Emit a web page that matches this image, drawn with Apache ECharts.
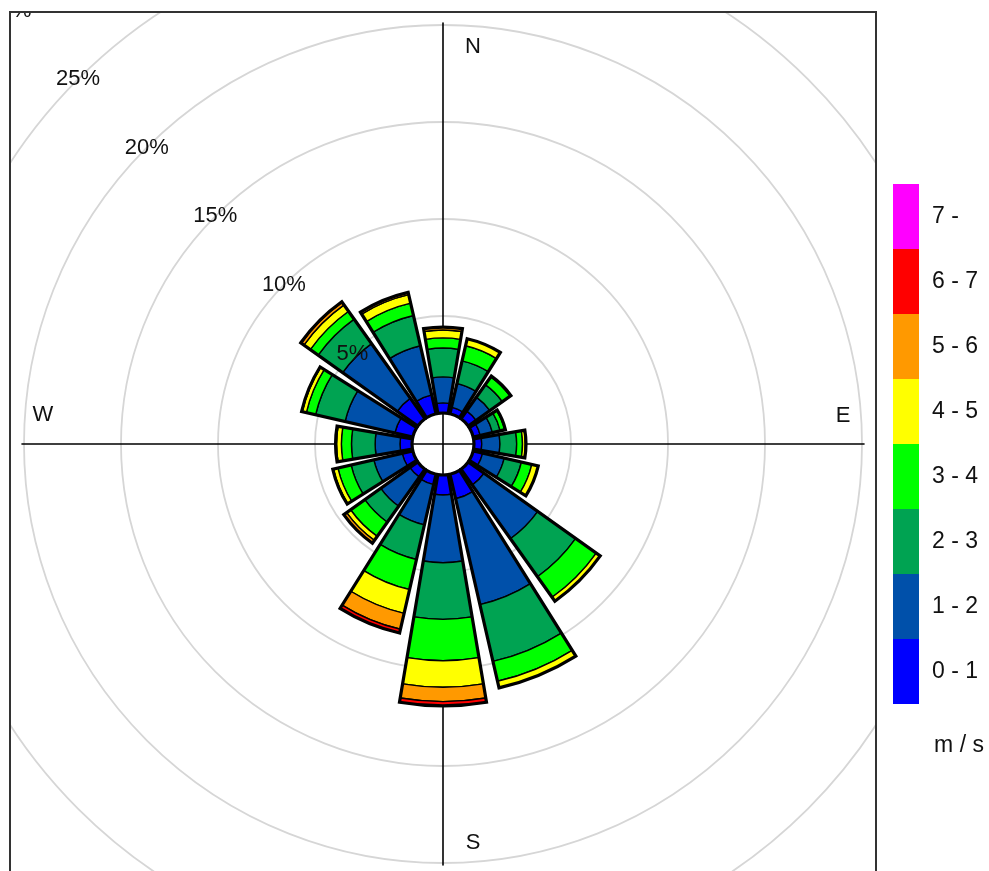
<!DOCTYPE html>
<html>
<head>
<meta charset="utf-8">
<script src="https://cdn.jsdelivr.net/npm/echarts@6/dist/echarts.min.js"></script>
<style>
  html, body { margin: 0; padding: 0; background: #fff; }
  #chart { width: 989px; height: 871px; }
</style>
</head>
<body>
<div id="chart"></div>
<script>
// ---- data ----
const directions = ['N','NNE','NE','ENE','E','ESE','SE','SSE','S','SSW','SW','WSW','W','WNW','NW','NNW'];
const speedBins = ['0 - 1','1 - 2','2 - 3','3 - 4','4 - 5','5 - 6','6 - 7','7 -'];
const binColors = ['#0000FF','#0050AA','#00A352','#00FF00','#FFFF00','#FF9900','#FF0000','#FF00FF'];

// frequency (%) per direction for each speed bin
const freq0to1 = [0.52, 0.35, 0.50, 0.37, 0.40, 0.50, 1.00, 1.30, 1.03, 0.55, 0.50, 0.56, 0.62, 0.95, 1.30, 1.00];
const freq1to2 = [1.34, 1.25, 0.87, 0.65, 0.94, 1.14, 3.40, 5.60, 3.49, 2.13, 1.84, 1.50, 1.28, 2.63, 3.45, 2.60];
const freq2to3 = [1.49, 1.20, 0.79, 0.41, 0.86, 0.91, 2.40, 3.00, 2.92, 1.83, 1.01, 1.20, 1.22, 1.56, 1.55, 1.60];
const freq3to4 = [0.52, 0.80, 0.49, 0.24, 0.30, 0.55, 1.30, 1.05, 2.13, 1.59, 0.90, 0.70, 0.52, 0.49, 0.50, 0.65];
const freq4to5 = [0.41, 0.37, 0.05, 0.03, 0.15, 0.34, 0.25, 0.35, 1.37, 1.26, 0.25, 0.24, 0.25, 0.22, 0.40, 0.45];
const freq5to6 = [0.15, 0, 0, 0, 0.03, 0, 0, 0, 0.74, 0.84, 0.18, 0.03, 0.05, 0.03, 0.17, 0.12];
const freq6to7 = [0, 0, 0, 0, 0, 0, 0, 0, 0.22, 0.20, 0, 0, 0, 0, 0.03, 0];
const freq7up  = [0, 0, 0, 0, 0, 0, 0, 0, 0, 0, 0, 0, 0, 0, 0, 0];
const binFreqs = [freq0to1, freq1to2, freq2to3, freq3to4, freq4to5, freq5to6, freq6to7, freq7up];

const ringValues = [5, 10, 15, 20, 25, 30];
const ringLabelDirection = 'NW';
const compassLabels = ['N', 'E', 'S', 'W'];
const unitLabel = 'm / s';

// ---- chart ----
const FONT = '"Liberation Sans", Arial, Helvetica, sans-serif';
const TXT = '#111111';
const chart = echarts.init(document.getElementById('chart'), null, { renderer: 'canvas' });

const totals = directions.map((d, i) => binFreqs.reduce((s, arr) => s + arr[i], 0));

const barSeries = speedBins.map((name, b) => ({
  name: name,
  type: 'bar',
  coordinateSystem: 'polar',
  stack: 'speed',
  barCategoryGap: '15%',
  barGap: '-100%',
  data: binFreqs[b].map(v => (v > 0 ? v : '-')),
  itemStyle: { color: binColors[b], borderColor: '#000', borderWidth: 1.4 },
  emphasis: { disabled: true },
  z: 3
}));

const outlineSeries = {
  name: 'outline',
  type: 'bar',
  coordinateSystem: 'polar',
  stack: 'outline',
  barCategoryGap: '15%',
  barGap: '-100%',
  data: totals,
  itemStyle: { color: 'rgba(0,0,0,0)', borderColor: '#000', borderWidth: 3.2 },
  emphasis: { disabled: true },
  silent: true,
  z: 4
};

const ringLabelSeries = {
  name: 'rings',
  type: 'scatter',
  coordinateSystem: 'polar',
  symbolSize: 1,
  itemStyle: { color: 'rgba(0,0,0,0)', opacity: 1 },
  data: ringValues.map(v => [v, ringLabelDirection]),
  label: {
    show: true,
    position: 'inside',
    formatter: p => p.value[0] + '%',
    fontFamily: FONT,
    fontSize: 22,
    color: TXT,
    opacity: 1
  },
  emphasis: { disabled: true },
  silent: true,
  z: 6
};

const cx = 443, cy = 444;
const innerR = 31, pxPerPct = 19.4;
const maxPct = 30;
const textStyle = (t) => ({ text: t, font: '22px ' + FONT, fill: TXT, align: 'center', verticalAlign: 'middle' });

chart.setOption({
  animation: false,
  backgroundColor: '#fff',
  polar: {
    center: [cx, cy],
    radius: [innerR, innerR + pxPerPct * maxPct]
  },
  angleAxis: {
    type: 'category',
    data: directions,
    startAngle: 90 + 360 / directions.length / 2,
    clockwise: true,
    axisLine: { show: false },
    axisTick: { show: false },
    axisLabel: { show: false },
    splitLine: { show: false }
  },
  radiusAxis: {
    type: 'value',
    min: 0,
    max: maxPct,
    interval: 5,
    axisLine: { show: false },
    axisTick: { show: false },
    axisLabel: { show: false },
    splitLine: { show: true, lineStyle: { color: '#d6d6d6', width: 1.8 } }
  },
  grid: { left: 22, right: 125, top: 23, bottom: 6 },
  xAxis: {
    type: 'value', min: -1, max: 1,
    axisLine: { show: true, onZero: true, lineStyle: { color: '#000', width: 1.6 } },
    axisTick: { show: false }, axisLabel: { show: false }, splitLine: { show: false }
  },
  yAxis: {
    type: 'value', min: -1, max: 1,
    axisLine: { show: true, onZero: true, lineStyle: { color: '#000', width: 1.6 } },
    axisTick: { show: false }, axisLabel: { show: false }, splitLine: { show: false }
  },
  legend: {
    data: speedBins.slice().reverse(),
    orient: 'vertical',
    left: 893,
    top: 184,
    padding: 0,
    itemWidth: 26,
    itemHeight: 65,
    itemGap: 0,
    icon: 'rect',
    selectedMode: false,
    itemStyle: { borderWidth: 0 },
    textStyle: { fontFamily: FONT, fontSize: 23, color: TXT, padding: [8, 0, 0, 8] },
    z: 120
  },
  graphic: [
    // clip masks outside the plot frame
    { type: 'rect', shape: { x: 0, y: 0, width: 989, height: 11 }, style: { fill: '#fff' }, z: 100, silent: true },
    { type: 'rect', shape: { x: 0, y: 0, width: 9, height: 871 }, style: { fill: '#fff' }, z: 100, silent: true },
    { type: 'rect', shape: { x: 877, y: 0, width: 112, height: 871 }, style: { fill: '#fff' }, z: 100, silent: true },
    // frame
    { type: 'rect', shape: { x: 10, y: 12, width: 866, height: 900 }, style: { fill: 'none', stroke: '#333', lineWidth: 2 }, z: 105, silent: true },
    // compass labels
    { type: 'text', x: 473, y: 47, style: textStyle(compassLabels[0]), z: 110 },
    { type: 'text', x: 843, y: 416, style: textStyle(compassLabels[1]), z: 110 },
    { type: 'text', x: 473, y: 843, style: textStyle(compassLabels[2]), z: 110 },
    { type: 'text', x: 43, y: 415, style: textStyle(compassLabels[3]), z: 110 },
    // unit
    { type: 'text', x: 959, y: 746, style: Object.assign(textStyle(unitLabel), { font: '23px ' + FONT }), z: 120 }
  ],
  series: [...barSeries, outlineSeries, ringLabelSeries]
});
</script>
</body>
</html>
